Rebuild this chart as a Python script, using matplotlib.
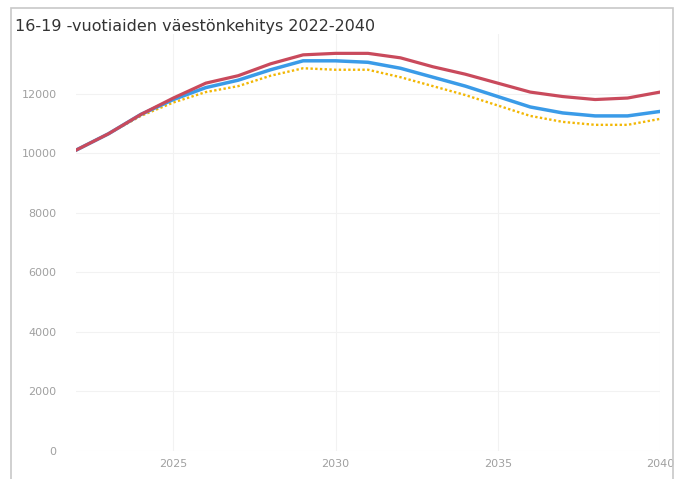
import matplotlib.pyplot as plt
from matplotlib.patches import Rectangle

# ---------------------------
# Data
# ---------------------------
years = list(range(2022, 2041))

red_series = [10100, 10650, 11300, 11850, 12350, 12600, 13000, 13300, 13350, 13350,
              13200, 12900, 12650, 12350, 12050, 11900, 11800, 11850, 12050]
blue_series = [10100, 10650, 11300, 11800, 12200, 12450, 12800, 13100, 13100, 13050,
               12850, 12550, 12250, 11900, 11550, 11350, 11250, 11250, 11400]
yellow_series = [10100, 10650, 11250, 11700, 12050, 12250, 12600, 12850, 12800, 12800,
                 12550, 12250, 11950, 11600, 11250, 11050, 10950, 10950, 11150]

x_ticks = [2025, 2030, 2035, 2040]
y_ticks = [0, 2000, 4000, 6000, 8000, 10000, 12000]

title = "16-19 -vuotiaiden väestönkehitys 2022-2040"

# ---------------------------
# Plot
# ---------------------------
fig = plt.figure(figsize=(6.84, 4.79), dpi=100)
fig.patches.append(Rectangle((11 / 684, -0.01), 662 / 684, 1 - 8 / 479 + 0.01,
                             transform=fig.transFigure, fill=False,
                             edgecolor="#c8c8c8", linewidth=1.2))

ax = fig.add_axes([76 / 684, 1 - 451 / 479, 584 / 684, (451 - 34) / 479])

ax.plot(years, yellow_series, color="#f2b705", linewidth=1.7, linestyle=(0, (1, 1)))
ax.plot(years, blue_series, color="#3a9be8", linewidth=2.5)
ax.plot(years, red_series, color="#c94a5c", linewidth=2.3)

ax.set_xlim(2022, 2040)
ax.set_ylim(0, 14000)
ax.set_xticks(x_ticks)
ax.set_yticks(y_ticks)
ax.tick_params(length=0, labelsize=8, colors="#a0a0a0", pad=14)
ax.tick_params(axis="x", pad=6)
ax.grid(True, color="#f2f2f2", linewidth=0.8)
ax.set_axisbelow(True)
for s in ax.spines.values():
    s.set_visible(False)

fig.text(15 / 684, 1 - 27 / 479, title, fontsize=11.5, color="#333333",
         va="center", ha="left")

plt.savefig("out.png", dpi=100)
